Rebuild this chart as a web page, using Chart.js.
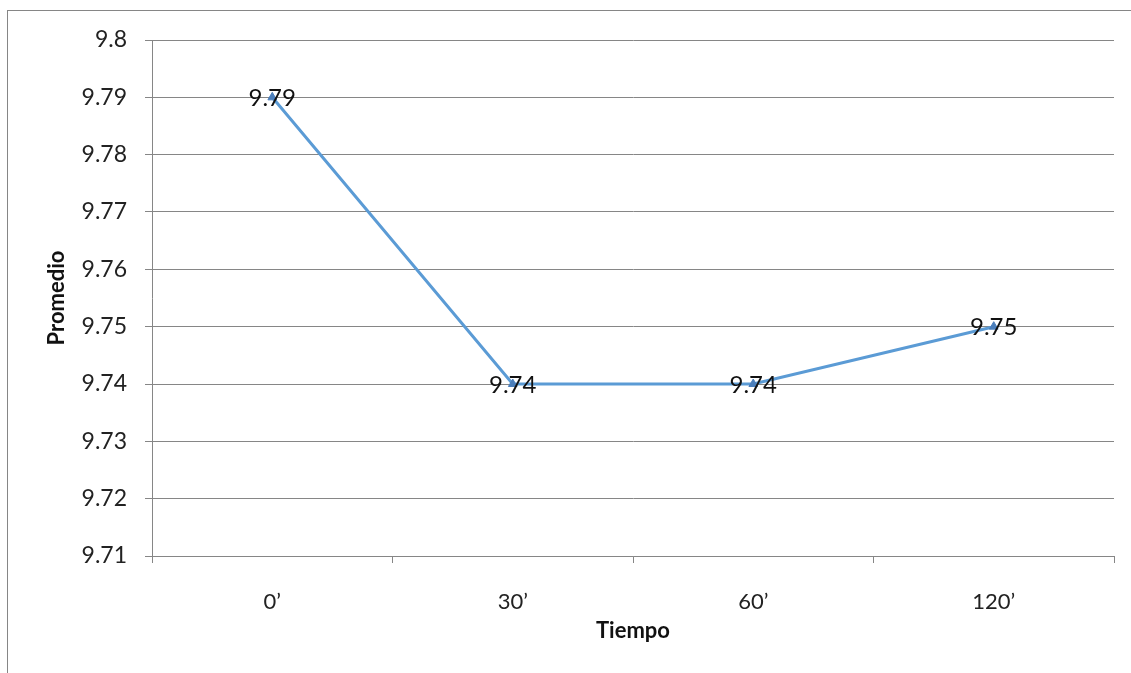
<!DOCTYPE html>
<html>
<head>
<meta charset="utf-8">
<script src="https://cdn.jsdelivr.net/npm/chart.js@4"></script>
<style>
  html, body { margin: 0; padding: 0; background: #fff; overflow: hidden; }
  #wrap { position: relative; width: 1131px; height: 673px; }
  #frame { position: absolute; left: 7px; top: 10px; width: 2000px; height: 2000px;
           border: 1px solid #868686; pointer-events: none; }
</style>
</head>
<body>
<div id="wrap">
  <canvas id="promedioChart" width="1131" height="673"></canvas>
  <div id="frame"></div>
</div>
<script>
// data
const categories = ['0\u2019', '30\u2019', '60\u2019', '120\u2019'];
const promedio = [9.79, 9.74, 9.74, 9.75];
const yMin = 9.71;
const yMax = 9.8;
const yStep = 0.01;

const fontFamily = 'Lato, "Open Sans", sans-serif';
const gridColor = '#868686';

// draws the value next to every point
const valueLabels = {
    id: 'valueLabels',
    afterDatasetsDraw(chart) {
        const ctx = chart.ctx;
        const meta = chart.getDatasetMeta(0);
        ctx.save();
        ctx.font = '24px ' + fontFamily;
        ctx.fillStyle = '#111';
        ctx.textAlign = 'center';
        ctx.textBaseline = 'middle';
        meta.data.forEach(function (pt, i) {
            ctx.fillText(promedio[i].toFixed(2), pt.x, pt.y + 1);
        });
        ctx.restore();
    }
};

document.addEventListener('DOMContentLoaded', function () {

    const canvas = document.getElementById('promedioChart');

    new Chart(canvas, {
        type: 'line',
        data: {
            labels: categories,
            datasets: [{
                label: 'Promedio',
                data: promedio,
                borderColor: '#5B9BD5',
                backgroundColor: '#4A7EBB',
                borderWidth: 3,
                tension: 0,
                fill: false,
                pointStyle: 'triangle',
                pointRadius: 5,
                pointBorderWidth: 1,
                pointBorderColor: '#4A7EBB',
                pointBackgroundColor: '#4A7EBB'
            }]
        },
        options: {
            responsive: false,
            animation: false,
            layout: {
                padding: { top: 40, right: 17, left: 0, bottom: 0 }
            },
            plugins: {
                legend: { display: false },
                tooltip: { enabled: false }
            },
            scales: {
                x: {
                    offset: true,
                    afterFit: function (scale) { scale.height = 117; },
                    grid: {
                        offset: true,
                        drawOnChartArea: false,
                        drawTicks: true,
                        tickLength: 7,
                        color: gridColor
                    },
                    border: { color: gridColor },
                    ticks: {
                        color: '#222',
                        padding: 26,
                        font: { family: fontFamily, size: 22 }
                    },
                    title: {
                        display: true,
                        text: 'Tiempo',
                        color: '#111',
                        font: { family: fontFamily, size: 22, weight: 'bold' },
                        padding: { top: 29, bottom: 29 }
                    }
                },
                y: {
                    min: yMin,
                    max: yMax,
                    afterFit: function (scale) { scale.width = 152; },
                    grid: {
                        color: gridColor,
                        drawTicks: true,
                        tickLength: 7
                    },
                    border: { color: gridColor },
                    ticks: {
                        stepSize: yStep,
                        color: '#222',
                        padding: 18,
                        font: { family: fontFamily, size: 23 },
                        callback: function (v) { return String(Number(v.toFixed(2))); }
                    },
                    title: {
                        display: true,
                        text: 'Promedio',
                        color: '#111',
                        font: { family: fontFamily, size: 22, weight: 'bold' },
                        padding: { top: 44, bottom: 44 }
                    }
                }
            }
        },
        plugins: [valueLabels]
    });

});
</script>
</body>
</html>
